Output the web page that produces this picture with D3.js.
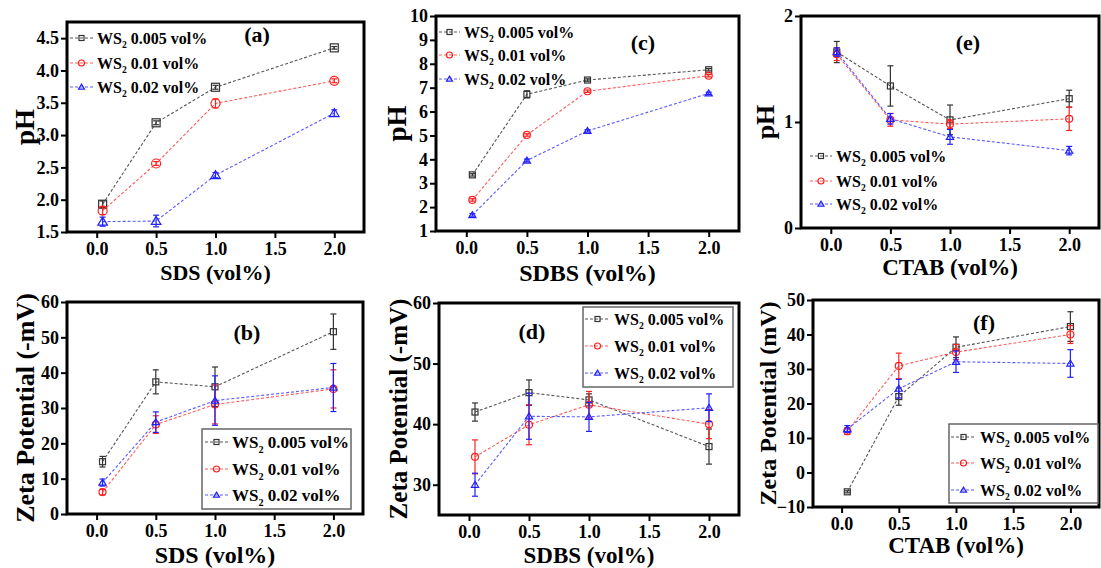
<!DOCTYPE html>
<html>
<head>
<meta charset="utf-8">
<script src="https://cdn.jsdelivr.net/npm/d3@7"></script>
<style>
  body { margin: 0; background: #fff; }
  svg text { font-family: "Liberation Serif", "Times New Roman", serif; font-weight: bold; fill: #000; }
</style>
</head>
<body>
<div id="chart"></div>
<script>
// x positions of the surfactant concentrations (vol%)
const xVals = [0.05, 0.5, 1.0, 2.0];
const xTicks = [0, 0.5, 1.0, 1.5, 2.0];
const seriesNames = ["0.005 vol%", "0.01 vol%", "0.02 vol%"];

// pH vs SDS (a)
const phSDS = [[1.93, 3.19, 3.74, 4.35], [1.83, 2.56, 3.49, 3.84], [1.66, 1.67, 2.38, 3.34]];
const phSDSErr = [[0.05, 0.03, 0.03, 0.02], [0.06, 0.03, 0.07, 0.03], [0.07, 0.09, 0.04, 0.05]];
// pH vs SDBS (c)
const phSDBS = [[3.35, 6.72, 7.32, 7.75], [2.3, 5.02, 6.85, 7.5], [1.67, 3.95, 5.19, 6.76]];
const phSDBSErr = [[0.05, 0.15, 0.05, 0.05], [0.05, 0.05, 0.05, 0.05], [0.05, 0.06, 0.05, 0.05]];
// pH vs CTAB (e)
const phCTAB = [[1.66, 1.34, 1.02, 1.22], [1.64, 1.02, 0.98, 1.03], [1.66, 1.03, 0.86, 0.73]];
const phCTABErr = [[0.1, 0.19, 0.14, 0.08], [0.06, 0.06, 0.04, 0.11], [0.04, 0.05, 0.07, 0.04]];
// zeta potential vs SDS (b)
const zetaSDS = [[14.8, 37.4, 36.0, 51.6], [6.2, 25.3, 31.0, 35.4], [8.9, 26.0, 32.1, 35.8]];
const zetaSDSErr = [[1.5, 3.4, 5.6, 5.0], [0.8, 2.5, 5.5, 5.4], [1.0, 2.9, 7.0, 6.8]];
// zeta potential vs SDBS (d)
const zetaSDBS = [[42.0, 45.2, 44.0, 36.3], [34.6, 39.9, 43.2, 40.0], [30.0, 41.3, 41.2, 42.7]];
const zetaSDBSErr = [[1.5, 2.1, 1.0, 2.9], [2.8, 3.3, 2.2, 2.4], [1.9, 3.8, 2.4, 2.3]];
// zeta potential vs CTAB (f)
const zetaCTAB = [[-5.6, 22.0, 36.3, 42.3], [12.0, 30.9, 34.9, 40.0], [12.6, 24.3, 32.1, 31.6]];
const zetaCTABErr = [[0.3, 2.5, 3.0, 4.3], [1.0, 3.7, 2.2, 2.6], [1.0, 2.7, 3.1, 4.0]];

const lineColors = ["#555", "#ff5a5a", "#5a5aff"];
const barColors = ["#333", "#ff2020", "#2020ff"];
const shapes = ["square", "circle", "triangle"];

const svg = d3.select("#chart").append("svg").attr("width", 1101).attr("height", 568);

const panels = [
  { tag: "(a)", vals: phSDS, errs: phSDSErr, left: 67, top: 22, right: 364, bottom: 232,
    yDomain: [1.5, 4.75], yTicks: d3.range(1.5, 4.51, 0.5), yFmt: ".1f", xTitle: "SDS (vol%)", yTitle: "pH",
    xTitleSize: 22, yTitleSize: 27, xTitleY: 280, yTitleX: 25, tagPos: [257, 42], mk: 8,
    legend: { x: 70, rows: [38, 63, 87], textX: 97, size: 16, box: null } },
  { tag: "(c)", vals: phSDBS, errs: phSDBSErr, left: 436, top: 16, right: 739, bottom: 231,
    yDomain: [1, 10], yTicks: d3.range(1, 11), yFmt: "d", xTitle: "SDBS (vol%)", yTitle: "pH",
    xTitleSize: 24, yTitleSize: 27, xTitleY: 281, yTitleX: 397, tagPos: [643, 50], mk: 6,
    legend: { x: 439, rows: [32, 55, 79], textX: 464, size: 16, box: null } },
  { tag: "(e)", vals: phCTAB, errs: phCTABErr, left: 801, top: 16, right: 1099, bottom: 228,
    yDomain: [0, 2], yTicks: [0, 1, 2], yFmt: "d", xTitle: "CTAB (vol%)", yTitle: "pH",
    xTitleSize: 23, yTitleSize: 26, xTitleY: 275, yTitleX: 765, tagPos: [968, 50], mk: 6,
    legend: { x: 810, rows: [156, 181, 204], textX: 836, size: 16, box: null } },
  { tag: "(b)", vals: zetaSDS, errs: zetaSDSErr, left: 67, top: 302, right: 363, bottom: 514,
    yDomain: [0, 60], yTicks: d3.range(0, 61, 10), yFmt: "d", xTitle: "SDS (vol%)", yTitle: "Zeta Potential (-mV)",
    xTitleSize: 24, yTitleSize: 26, xTitleY: 563, yTitleX: 25, tagPos: [247, 340], mk: 6,
    legend: { x: 205, rows: [442, 469, 495], textX: 232, size: 17, box: [202, 429, 351, 509] } },
  { tag: "(d)", vals: zetaSDBS, errs: zetaSDBSErr, left: 439, top: 303, right: 739, bottom: 515,
    yDomain: [25, 60], yTicks: d3.range(30, 61, 10), yFmt: "d", xTitle: "SDBS (vol%)", yTitle: "Zeta Potential (-mV)",
    xTitleSize: 23, yTitleSize: 25, xTitleY: 563, yTitleX: 398, tagPos: [532, 339], mk: 6,
    legend: { x: 585, rows: [319, 346, 373], textX: 614, size: 16, box: [583, 307, 733, 387] } },
  { tag: "(f)", vals: zetaCTAB, errs: zetaCTABErr, left: 813, top: 300, right: 1099, bottom: 507,
    yDomain: [-10, 50], yTicks: d3.range(-10, 51, 10), yFmt: "d", xTitle: "CTAB (vol%)", yTitle: "Zeta Potential (mV)",
    xTitleSize: 23, yTitleSize: 24, xTitleY: 553, yTitleX: 768, tagPos: [984, 330], mk: 6,
    legend: { x: 951, rows: [437, 463, 490], textX: 980, size: 16, box: [949, 424, 1098, 503] } }
];

//draws one hollow marker centred on cx,cy
function marker(g, shape, cx, cy, s, color) {
  if (shape === "square") {
    g.append("rect").attr("x", cx - s / 2).attr("y", cy - s / 2).attr("width", s).attr("height", s)
      .attr("fill", "none").attr("stroke", color).attr("stroke-width", 1.2);
  } else if (shape === "circle") {
    g.append("circle").attr("cx", cx).attr("cy", cy).attr("r", s / 2 + 0.5)
      .attr("fill", "none").attr("stroke", color).attr("stroke-width", 1.2);
  } else {
    const h = s * 0.95;
    g.append("path")
      .attr("d", `M${cx},${cy - h * 0.6}L${cx + s * 0.6},${cy + h * 0.45}L${cx - s * 0.6},${cy + h * 0.45}Z`)
      .attr("fill", "none").attr("stroke", color).attr("stroke-width", 1.2);
  }
}

function drawPanel(p) {
  const g = svg.append("g");
  const x = d3.scaleLinear().domain([-0.25, 2.25]).range([p.left, p.right]);
  const y = d3.scaleLinear().domain(p.yDomain).range([p.bottom, p.top]);

  //axes, outward ticks
  const xa = g.append("g").attr("transform", `translate(0,${p.bottom})`)
    .call(d3.axisBottom(x).tickValues(xTicks).tickFormat(d3.format(".1f")).tickSize(6).tickPadding(4));
  const ya = g.append("g").attr("transform", `translate(${p.left},0)`)
    .call(d3.axisLeft(y).tickValues(p.yTicks).tickFormat(d3.format(p.yFmt)).tickSize(6).tickPadding(2));
  [xa, ya].forEach((a) => {
    a.select(".domain").remove();
    a.selectAll("line").attr("stroke", "#000").attr("stroke-width", 2);
    a.selectAll("text").attr("font-size", 18).attr("fill", "#000")
      .attr("font-family", "Liberation Serif, serif").attr("font-weight", "bold");
  });

  //series: dashed line, error bars, markers
  p.vals.forEach((vals, si) => {
    const pts = xVals.map((xv, i) => [x(xv), y(vals[i]), p.errs[si][i]]);
    g.append("path")
      .attr("d", d3.line()(pts.map((d) => [d[0], d[1]])))
      .attr("fill", "none").attr("stroke", lineColors[si]).attr("stroke-width", 1.1)
      .attr("stroke-dasharray", "3,2");
    xVals.forEach((xv, i) => {
      const cx = x(xv);
      const y0 = y(vals[i] - p.errs[si][i]);
      const y1 = y(vals[i] + p.errs[si][i]);
      g.append("line").attr("x1", cx).attr("x2", cx).attr("y1", y0).attr("y2", y1)
        .attr("stroke", barColors[si]).attr("stroke-width", 1.2);
      [y0, y1].forEach((yy) => {
        g.append("line").attr("x1", cx - 3).attr("x2", cx + 3).attr("y1", yy).attr("y2", yy)
          .attr("stroke", barColors[si]).attr("stroke-width", 1.2);
      });
    });
    pts.forEach((d) => marker(g, shapes[si], d[0], d[1], p.mk, barColors[si]));
  });

  //frame
  g.append("rect").attr("x", p.left).attr("y", p.top)
    .attr("width", p.right - p.left).attr("height", p.bottom - p.top)
    .attr("fill", "none").attr("stroke", "#000").attr("stroke-width", 3);

  //titles
  g.append("text").attr("x", (p.left + p.right) / 2).attr("y", p.xTitleY)
    .attr("text-anchor", "middle").attr("font-size", p.xTitleSize).text(p.xTitle);
  g.append("text").attr("transform", `translate(${p.yTitleX},${(p.top + p.bottom) / 2}) rotate(-90)`)
    .attr("text-anchor", "middle").attr("dy", "0.35em").attr("font-size", p.yTitleSize).text(p.yTitle);
  g.append("text").attr("x", p.tagPos[0]).attr("y", p.tagPos[1])
    .attr("text-anchor", "middle").attr("font-size", 22).text(p.tag);

  //legend
  const L = p.legend;
  if (L.box) {
    g.append("rect").attr("x", L.box[0]).attr("y", L.box[1])
      .attr("width", L.box[2] - L.box[0]).attr("height", L.box[3] - L.box[1])
      .attr("fill", "#fff").attr("stroke", "#666").attr("stroke-width", 1.5);
  }
  seriesNames.forEach((name, si) => {
    const ry = L.rows[si];
    const x1 = L.textX - 4;
    g.append("line").attr("x1", L.x).attr("x2", x1).attr("y1", ry).attr("y2", ry)
      .attr("stroke", lineColors[si]).attr("stroke-width", 1.1).attr("stroke-dasharray", "3,2");
    marker(g, shapes[si], (L.x + x1) / 2, ry, 5, barColors[si]);
    const t = g.append("text").attr("x", L.textX).attr("y", ry).attr("dy", "0.35em")
      .attr("font-size", L.size);
    t.append("tspan").text("WS");
    t.append("tspan").attr("font-size", L.size * 0.6).attr("dy", "0.45em").text("2");
    t.append("tspan").attr("dy", "-0.27em").text(" " + name);
  });
}

panels.forEach(drawPanel);
</script>
</body>
</html>
